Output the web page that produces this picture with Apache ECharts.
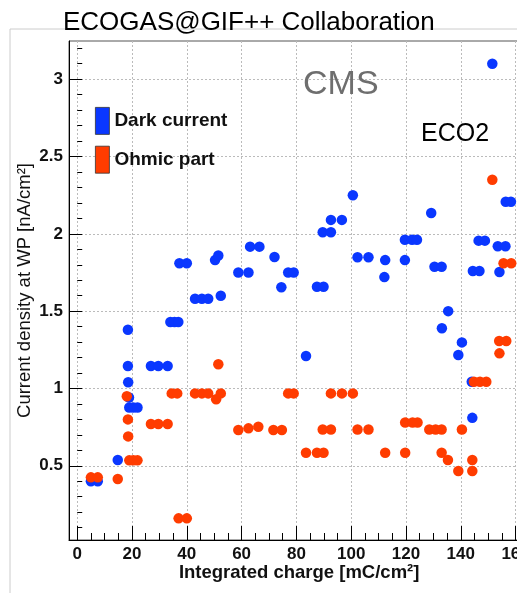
<!DOCTYPE html>
<html><head><meta charset="utf-8">
<script src="https://cdn.jsdelivr.net/npm/echarts@6/dist/echarts.min.js"></script>
<style>html,body{margin:0;padding:0;background:#fff}#c{width:517px;height:593px}</style>
</head><body><div id="c"></div>
<script>
// Dark current points [integrated charge, current density]
const darkCurrent = [
  [5,0.40],[7.5,0.40],[14.8,0.537],
  [18.5,1.38],[18.5,1.145],[18.6,1.04],[18.9,0.942],
  [19,0.877],[20.5,0.877],[22,0.877],
  [26.9,1.145],[29.6,1.145],[33,1.145],
  [34,1.43],[35.5,1.43],[36.9,1.43],
  [37.3,1.81],[40,1.81],
  [43,1.58],[45.5,1.58],[47.8,1.58],
  [50.3,1.83],[51.5,1.86],[52.4,1.60],
  [58.8,1.75],[62.5,1.75],[63.1,1.917],[66.5,1.917],
  [72,1.85],[74.5,1.654],[77,1.75],[79,1.75],
  [83.5,1.21],[87.5,1.658],[89.9,1.658],
  [89.6,2.01],[92.6,2.01],[92.6,2.09],[96.6,2.09],[100.6,2.25],
  [102.3,1.848],[106.3,1.848],[112.4,1.83],[112.1,1.72],
  [119.6,1.962],[122.2,1.962],[124,1.962],[119.6,1.83],
  [129.2,2.135],[130.4,1.787],[133,1.787],
  [135.4,1.50],[133.1,1.389],[140.4,1.298],[139.1,1.216],
  [144,1.043],[144.2,0.81],
  [144.4,1.76],[146.8,1.76],[146.5,1.956],[148.8,1.956],
  [151.5,3.10],[154.1,1.753],[153.5,1.92],[156.3,1.92],
  [156.4,2.207],[158.3,2.207]
];
// Ohmic part points
const ohmicPart = [
  [5,0.425],[7.5,0.425],[14.8,0.414],
  [18.1,0.95],[18.5,0.80],[18.6,0.69],
  [19,0.535],[20.5,0.535],[22,0.535],
  [26.9,0.77],[29.6,0.77],[33,0.77],
  [34.5,0.968],[36.5,0.968],[37,0.16],[40,0.16],
  [43,0.968],[45.5,0.968],[47.8,0.968],
  [51.5,1.156],[50.7,0.93],[52.4,0.968],
  [58.8,0.731],[62.5,0.742],[66.1,0.752],
  [71.6,0.731],[74.7,0.731],[77,0.968],[79,0.968],
  [83.5,0.584],[87.5,0.584],[89.9,0.584],
  [89.6,0.735],[92.6,0.735],[92.6,0.968],[96.6,0.968],[100.6,0.968],
  [102.3,0.735],[106.3,0.735],[112.4,0.584],
  [119.7,0.78],[122.4,0.78],[124.2,0.78],[119.7,0.584],
  [128.5,0.735],[130.8,0.735],[133,0.735],[140.4,0.735],
  [133,0.584],[135.3,0.537],[139.1,0.466],[144.2,0.537],[144.2,0.466],
  [144.8,1.043],[147,1.043],[149.3,1.043],
  [151.5,2.35],[154,1.307],[156.6,1.307],[154.1,1.227],
  [155.6,1.81],[158.4,1.81]
];
const seriesNames = ['Dark current','Ohmic part'];
const xTicks = [0,20,40,60,80,100,120,140,160];
const xMinorTicks = [0,5,10,15,20,25,30,35,40,45,50,55,60,65,70,75,80,85,90,95,100,105,110,115,120,125,130,135,140,145,150,155,160,165];
const yTicks = [0.5,1,1.5,2,2.5,3];
const yMinorTicks = [0.1,0.2,0.3,0.4,0.5,0.6,0.7,0.8,0.9,1.0,1.1,1.2,1.3,1.4,1.5,1.6,1.7,1.8,1.9,2.0,2.1,2.2,2.3,2.4,2.5,2.6,2.7,2.8,2.9,3.0,3.1,3.2];

const FONT = 'Liberation Sans, Arial, Helvetica, sans-serif';
const BLUE = '#0a37ff', RED = '#ff3c00';
const chart = echarts.init(document.getElementById('c'), null, {renderer:'canvas'});
const grid = {left:69, top:41, width:460.3, height:499, show:true, borderColor:'#555', borderWidth:1,
  backgroundColor:'#fff', containLabel:false, outerBoundsMode:'none'};
const splitStyle = {show:true, lineStyle:{color:'#bbb', type:[2,2], width:1}};
chart.setOption({
  animation:false,
  backgroundColor:'#fff',
  grid: grid,
  legend: {
    data: seriesNames, orient:'vertical', left:95, top:107, padding:0, itemWidth:14, itemHeight:27, itemGap:11,
    icon:'rect', itemStyle:{borderColor:'#333', borderWidth:0.8},
    textStyle:{fontFamily:FONT, fontSize:19, fontWeight:'bold', color:'#111'}
  },
  graphic: [
    {type:'rect', shape:{x:10, y:29, width:700, height:700}, style:{fill:'none', stroke:'#ccc', lineWidth:1}, silent:true, z:-1},
    {type:'text', x:63, y:23, style:{text:'ECOGAS@GIF++ Collaboration', font:'26px '+FONT, fill:'#000', verticalAlign:'middle'}, z:100},
    {type:'text', x:303, y:85, style:{text:'CMS', font:'34px '+FONT, fill:'#6e6e6e', verticalAlign:'middle'}, z:100},
    {type:'text', x:421, y:134, style:{text:'ECO2', font:'25px '+FONT, fill:'#000', verticalAlign:'middle'}, z:100}
  ],
  xAxis: [
    {type:'value', min:-3, max:165, position:'bottom',
     name:'Integrated charge [mC/cm²]', nameLocation:'middle', nameGap:23, nameMoveOverlap:false,
     nameTextStyle:{fontFamily:FONT, fontSize:18.5, fontWeight:'bold', color:'#111'},
     axisLine:{show:true, onZero:false, lineStyle:{color:'#000', width:1}},
     axisTick:{show:true, inside:true, length:14, customValues:xTicks, lineStyle:{color:'#000'}},
     axisLabel:{customValues:xTicks, fontFamily:FONT, fontSize:17, fontWeight:'bold', color:'#111', margin:6},
     splitLine:splitStyle},
    {type:'value', min:-3, max:165, position:'bottom',
     axisLine:{show:false}, axisLabel:{show:false}, splitLine:{show:false},
     axisTick:{show:true, inside:true, length:7, customValues:xMinorTicks, lineStyle:{color:'#000'}}}
  ],
  yAxis: [
    {type:'value', min:0.02, max:3.247, position:'left',
     name:'Current density at WP [nA/cm²]', nameLocation:'middle', nameGap:35, nameMoveOverlap:false,
     nameTextStyle:{fontFamily:FONT, fontSize:18.5, color:'#111'},
     axisLine:{show:true, onZero:false, lineStyle:{color:'#000', width:1}},
     axisTick:{show:true, inside:true, length:9, customValues:yTicks, lineStyle:{color:'#000'}},
     axisLabel:{customValues:yTicks, fontFamily:FONT, fontSize:17, fontWeight:'bold', color:'#111', margin:6},
     splitLine:splitStyle},
    {type:'value', min:0.02, max:3.247, position:'left',
     axisLine:{show:false}, axisLabel:{show:false}, splitLine:{show:false},
     axisTick:{show:true, inside:true, length:5, customValues:yMinorTicks, lineStyle:{color:'#000'}}}
  ],
  series: [
    {name:seriesNames[0], type:'scatter', xAxisIndex:0, yAxisIndex:0, data:darkCurrent, symbolSize:10.5,
     itemStyle:{color:BLUE, opacity:1}, z:3},
    {name:seriesNames[1], type:'scatter', xAxisIndex:0, yAxisIndex:0, data:ohmicPart, symbolSize:10.5,
     itemStyle:{color:RED, opacity:1}, z:4}
  ]
});
</script></body></html>
